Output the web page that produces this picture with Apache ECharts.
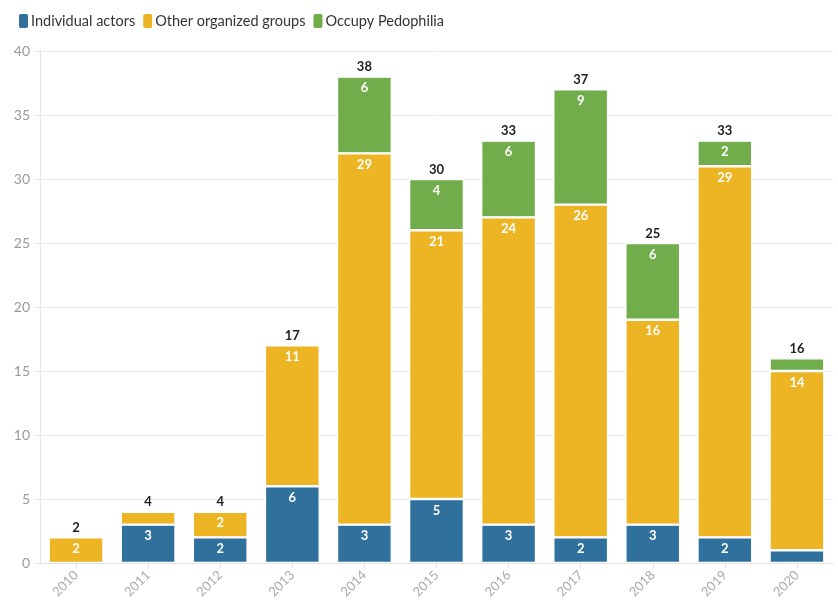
<!DOCTYPE html>
<html><head><meta charset="utf-8">
<script src="https://cdn.jsdelivr.net/npm/echarts@6/dist/echarts.min.js"></script>
<style>html,body{margin:0;padding:0;background:#fff}#c{width:838px;height:602px}</style>
</head><body><div id="c"></div>
<script>
const years = ['2010','2011','2012','2013','2014','2015','2016','2017','2018','2019','2020'];
const individualActors = [0,3,2,6,3,5,3,2,3,2,1];
const otherGroups = [2,1,2,11,29,21,24,26,16,29,14];
const occupyPedophilia = [0,0,0,0,6,4,6,9,6,2,1];
const yTicks = [0,5,10,15,20,25,30,35,40];

const totals = years.map((_, i) => individualActors[i] + otherGroups[i] + occupyPedophilia[i]);
const font = 'Lato, "Open Sans", sans-serif';
const inLabel = {
  show: true, position: 'insideTop', distance: 5, color: '#fff', fontWeight: 'bold',
  fontSize: 13, fontFamily: font,
  formatter: p => (p.value > 1 ? String(p.value) : '')
};
const toData = arr => arr.map(v => (v === 0 ? '-' : v));
const border = { borderColor: '#fff', borderWidth: 1.2 };

const chart = echarts.init(document.getElementById('c'));
chart.setOption({
  animation: false,
  textStyle: { fontFamily: font },
  legend: {
    left: 12, top: 7, itemWidth: 11, itemHeight: 16, itemGap: 6,
    icon: 'roundRect',
    textStyle: { fontSize: 14.5, color: '#333', fontFamily: font, padding: [0, 0, 0, -3] },
    data: ['Individual actors', 'Other organized groups', 'Occupy Pedophilia']
  },
  grid: { left: 40, right: 5, top: 51, bottom: 39, containLabel: false },
  xAxis: {
    type: 'category', data: years,
    axisLine: { show: true, lineStyle: { color: '#e5e5e5' } },
    axisTick: { show: true, alignWithLabel: true, lineStyle: { color: '#e0e0e0' } },
    axisLabel: { rotate: 45, color: '#aaa', fontSize: 13, margin: 10, fontFamily: font }
  },
  yAxis: {
    type: 'value', min: 0, max: 40, interval: 5,
    axisLine: { show: true, lineStyle: { color: '#e5e5e5' } },
    axisTick: { show: true, length: 5, lineStyle: { color: '#e5e5e5' } },
    axisLabel: { color: '#999', fontSize: 14, margin: 10, fontFamily: font,
      formatter: v => (yTicks.includes(v) ? String(v) : '') },
    splitLine: { lineStyle: { color: '#ececec' } }
  },
  series: [
    { name: 'Individual actors', type: 'bar', stack: 't', barCategoryGap: '24%',
      itemStyle: Object.assign({ color: '#2f719c' }, border), label: inLabel,
      data: toData(individualActors) },
    { name: 'Other organized groups', type: 'bar', stack: 't',
      itemStyle: Object.assign({ color: '#edb424' }, border), label: inLabel,
      data: toData(otherGroups) },
    { name: 'Occupy Pedophilia', type: 'bar', stack: 't',
      itemStyle: Object.assign({ color: '#71ad4b' }, border), label: inLabel,
      data: toData(occupyPedophilia) },
    { name: 'Total', type: 'bar', stack: 't', silent: true,
      itemStyle: { color: 'transparent' },
      label: { show: true, position: 'top', distance: 3, color: '#222', fontWeight: 'bold',
        fontSize: 13, fontFamily: font, formatter: p => String(totals[p.dataIndex]) },
      data: years.map(() => 0) }
  ]
});
</script></body></html>
